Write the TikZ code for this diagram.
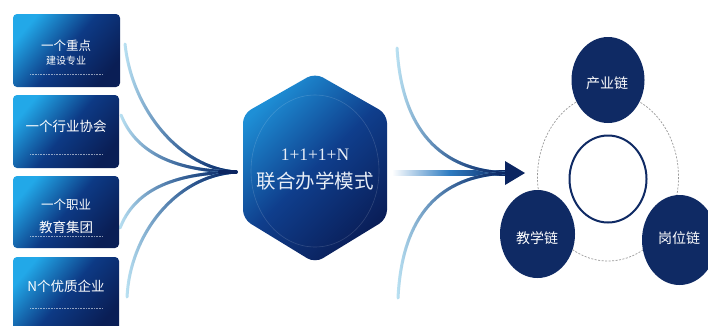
\documentclass[tikz,border=0pt]{standalone}
\usepackage{fontspec}
\setmainfont{Liberation Serif}
\newfontfamily\cjk{Noto Sans CJK SC}
\usetikzlibrary{fadings}
\definecolor{navy}{HTML}{0F2A64}
\definecolor{arrownavy}{HTML}{0B2561}
\definecolor{deepnavy}{HTML}{0A1E55}
\definecolor{boxlight}{HTML}{22A8E8}
\definecolor{boxmid}{HTML}{0D3A85}
\definecolor{hexlight}{HTML}{1E8FD6}
\definecolor{hexmid}{HTML}{0F3E8C}
\definecolor{hexdark}{HTML}{0A1E58}
\definecolor{strokelight}{HTML}{BCE3F4}
\definecolor{strokemid}{HTML}{2F7DC2}
\definecolor{txtlight}{HTML}{E8EEF7}
\tikzfading[name=fadeR, left color=transparent!100, right color=transparent!0]
\tikzfading[name=fadeLate, left color=transparent!100, middle color=transparent!85, right color=transparent!0]
\tikzset{
  card/.style={rounded corners=4pt, top color=boxlight, bottom color=deepnavy, middle color=boxmid, shading angle=50},
  cardtxt/.style={text=white, font=\cjk\fontsize{13.5}{15}\selectfont, inner sep=0pt},
  cardsub/.style={text=white, font=\cjk\fontsize{10}{12}\selectfont, inner sep=0pt},
  cardrule/.style={draw=white, draw opacity=0.55, line width=0.6pt, dash pattern=on 0.8pt off 0.8pt},
  flow/.style={draw=strokelight, line width=3pt, line cap=round,
    postaction={draw=strokemid, line width=3pt, path fading=fadeR},
    postaction={draw=arrownavy, line width=3pt, path fading=fadeLate}},
  chaintxt/.style={text=white, font=\cjk\fontsize{14}{16}\selectfont, inner sep=0pt},
}
\begin{document}
\begin{tikzpicture}[x=1pt, y=-1pt]
\useasboundingbox (0,0) rectangle (708,325);
\clip (0,0) rectangle (708,325);
\fill[white] (0,0) rectangle (708,325);

% named points
\coordinate (tipL) at (236,172);
\coordinate (sA) at (125,44);
\coordinate (sB) at (121,115);
\coordinate (sC) at (120,228);
\coordinate (sD) at (127,297);
\coordinate (tipR) at (506,173);
\coordinate (sE) at (397,48);
\coordinate (sF) at (398,298);

% left converging curves
\draw[flow] (sA) .. controls (132,110) and (180,168) .. (tipL);
\draw[flow] (sB) .. controls (135,150) and (170,171) .. (tipL);
\draw[flow] (sC) .. controls (134,192) and (170,173) .. (tipL);
\draw[flow] (sD) .. controls (130,235) and (175,176) .. (tipL);
\draw[arrownavy, line width=3.8pt, line cap=round] (220,172) -- (tipL);

% left cards
\shade[card] (13,14) rectangle (120,87);
\shade[card] (13,95) rectangle (119,168);
\shade[card] (13,176) rectangle (119,248);
\shade[card] (13,257) rectangle (119,332);
\node[cardtxt, font=\cjk\fontsize{12.5}{14}\selectfont] (c1a) at (66,46) {一个重点};
\node[cardsub] (c1b) at (66,61) {建设专业};
\draw[cardrule] (30,74) -- (103,74);
\node[cardtxt] (c2) at (66,126) {一个行业协会};
\draw[cardrule] (30,154) -- (103,154);
\node[cardtxt, font=\cjk\fontsize{12.5}{14}\selectfont] (c3a) at (66,205) {一个职业};
\node[cardtxt] (c3b) at (66,227) {教育集团};
\draw[cardrule] (30,236) -- (103,236);
\node[cardtxt] (c4) at (66,286) {N个优质企业};
\draw[cardrule] (30,308) -- (103,308);

% hexagon
\shade[rounded corners=9pt, top color=hexlight, bottom color=hexdark, middle color=hexmid, shading angle=45]
  (315,73) -- (387,114) -- (387,219) -- (315,263) -- (243,219) -- (243,114) -- cycle;
\draw[white, opacity=0.15, line width=0.6pt] (315,171) ellipse [x radius=64, y radius=76];
\node[text=txtlight, font=\fontsize{17.5}{19}\selectfont, inner sep=0pt] (hexa) at (315,155) {1+1+1+N};
\node[text=txtlight, font=\cjk\fontsize{19.5}{21}\selectfont, inner sep=0pt] (hexb) at (315,181) {联合办学模式};

% right arrows
\shade[left color=white, right color=arrownavy, middle color=strokemid] (392,170.4) rectangle (506,175.6);
\draw[flow] (sE) .. controls (402,130) and (440,170) .. (tipR);
\draw[flow] (sF) .. controls (402,215) and (440,176) .. (tipR);
\fill[arrownavy] (505,161) -- (525,173) -- (505,185) -- cycle;

% chain circles
\draw[gray!80, line width=0.7pt, dash pattern=on 2pt off 1.5pt] (608,177) ellipse [x radius=70.5, y radius=84];
\draw[navy, line width=2pt] (608,179) ellipse [x radius=38.5, y radius=43.5];
\fill[navy] (608,80) ellipse [x radius=36.5, y radius=43];
\fill[navy] (537.5,234) ellipse [x radius=37.5, y radius=44];
\fill[navy] (679.5,240) ellipse [x radius=37.5, y radius=45];
\node[chaintxt] (top) at (607,83) {产业链};
\node[chaintxt] (left) at (537,238) {教学链};
\node[chaintxt] (right) at (679,238) {岗位链};
\end{tikzpicture}
\end{document}
